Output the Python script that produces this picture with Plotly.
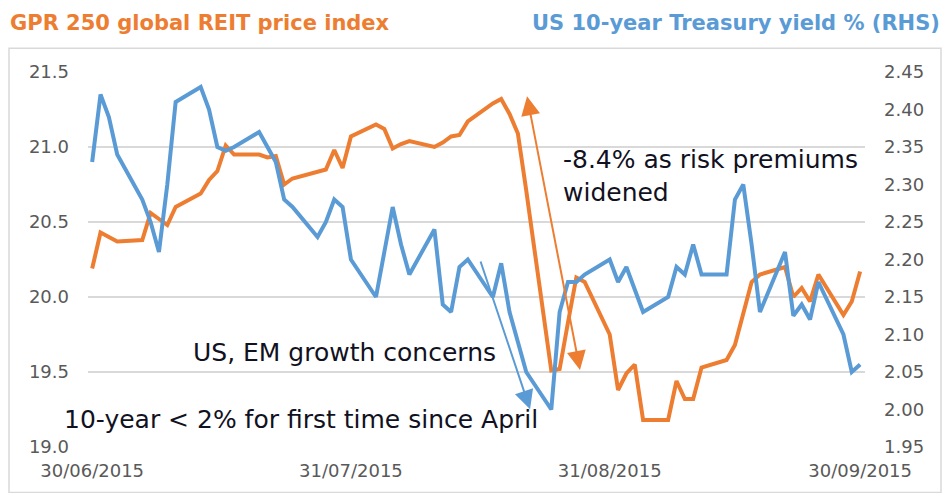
import plotly.graph_objects as go

# ---------------- data ----------------
dates = [
    "2015-06-30",
    "2015-07-01", "2015-07-02", "2015-07-03", "2015-07-06", "2015-07-07", "2015-07-08",
    "2015-07-09", "2015-07-10", "2015-07-13", "2015-07-14", "2015-07-15", "2015-07-16",
    "2015-07-17", "2015-07-20", "2015-07-21", "2015-07-22", "2015-07-23", "2015-07-24",
    "2015-07-27", "2015-07-28", "2015-07-29", "2015-07-30", "2015-07-31",
    "2015-08-03", "2015-08-04", "2015-08-05", "2015-08-06", "2015-08-07", "2015-08-10",
    "2015-08-11", "2015-08-12", "2015-08-13", "2015-08-14", "2015-08-17", "2015-08-18",
    "2015-08-19", "2015-08-20", "2015-08-21", "2015-08-24", "2015-08-25", "2015-08-26",
    "2015-08-27", "2015-08-28", "2015-08-31",
    "2015-09-01", "2015-09-02", "2015-09-03", "2015-09-04", "2015-09-07", "2015-09-08",
    "2015-09-09", "2015-09-10", "2015-09-11", "2015-09-14", "2015-09-15", "2015-09-16",
    "2015-09-17", "2015-09-18", "2015-09-21", "2015-09-22", "2015-09-23", "2015-09-24",
    "2015-09-25", "2015-09-28", "2015-09-29", "2015-09-30",
]

reit_index = [
    20.19,
    20.43, 20.40, 20.37, 20.38, 20.56, 20.52,
    20.48, 20.60, 20.69, 20.78, 20.84, 21.01,
    20.95, 20.95, 20.93, 20.94, 20.75, 20.79,
    20.83, 20.85, 20.98, 20.86, 21.07,
    21.15, 21.12, 20.99, 21.02, 21.04, 21.00,
    21.03, 21.07, 21.08, 21.17, 21.29, 21.32,
    21.22, 21.09, 20.71, 19.51, 19.52, 19.83,
    20.13, 20.10, 19.75,
    19.38, 19.49, 19.55, 19.18, 19.18, 19.44,
    19.32, 19.32, 19.53, 19.58, 19.68, 19.90,
    20.10, 20.15, 20.20, 20.00, 20.06, 19.97,
    20.15, 19.88, 19.97, 20.17,
]

treasury_yield = [
    2.33,
    2.42, 2.39, 2.34, 2.28, 2.25, 2.21,
    2.30, 2.41, 2.43, 2.40, 2.35, 2.345,
    2.35, 2.37, 2.35, 2.33, 2.28, 2.27,
    2.23, 2.25, 2.28, 2.27, 2.20,
    2.15, 2.21, 2.27, 2.22, 2.18, 2.24,
    2.14, 2.13, 2.19, 2.20, 2.15, 2.195,
    2.13, 2.09, 2.05, 2.00, 2.13, 2.17,
    2.17, 2.18, 2.20,
    2.17, 2.19, 2.16, 2.13, 2.15, 2.19,
    2.18, 2.22, 2.18, 2.18, 2.28, 2.30,
    2.22, 2.13, 2.21, 2.125, 2.14, 2.12,
    2.17, 2.10, 2.05, 2.06,
]

left_ticks = [19.0, 19.5, 20.0, 20.5, 21.0, 21.5]
right_ticks = [1.95, 2.00, 2.05, 2.10, 2.15, 2.20, 2.25, 2.30, 2.35, 2.40, 2.45]
x_ticks = ["2015-06-30", "2015-07-31", "2015-08-31", "2015-09-30"]

title_left = "GPR 250 global REIT price index"
title_right = "US 10-year Treasury yield % (RHS)"
note_risk = "-8.4% as risk premiums<br>widened"
note_growth = "US, EM growth concerns"
note_yield = "10-year < 2% for first time since April"

# ---------------- layout geometry ----------------
W, H = 944, 493
PL, PR, PT, PB = 88, 865, 72, 451
ORANGE = "#ED7D31"
BLUE = "#5B9BD5"
GRID = "#D9D9D9"
TICK = "#595959"
TEXT = "#111122"


def px_x(px):
    return (px - PL) / (PR - PL)


def px_y(py):
    return (PB - py) / (PB - PT)


fig = go.Figure()
fig.add_trace(go.Scatter(x=dates, y=reit_index, mode="lines", yaxis="y",
                         line=dict(color=ORANGE, width=4), name=title_left))
fig.add_trace(go.Scatter(x=dates, y=treasury_yield, mode="lines", yaxis="y2",
                         line=dict(color=BLUE, width=4), name=title_right))

tickfont = dict(family="DejaVu Sans", size=18, color=TICK)

fig.update_layout(
    width=W, height=H,
    margin=dict(l=PL, r=W - PR, t=PT, b=H - PB),
    paper_bgcolor="white", plot_bgcolor="white",
    showlegend=False,
    xaxis=dict(type="date", range=["2015-06-29 12:00", "2015-09-30 14:00"],
               tickvals=x_ticks, tickformat="%d/%m/%Y", showgrid=False,
               zeroline=False, showline=False, ticks="", tickfont=tickfont,
               ticklabelstandoff=11),
    yaxis=dict(range=[19.0, 21.5], tickvals=left_ticks,
               ticktext=[f"{v:.1f}" for v in left_ticks],
               showgrid=True, gridcolor=GRID, gridwidth=1.5, zeroline=False,
               showline=False, ticks="", tickfont=tickfont, ticklabelstandoff=18),
    yaxis2=dict(range=[1.95, 2.45], tickvals=right_ticks,
                ticktext=[f"{v:.2f}" for v in right_ticks],
                overlaying="y", side="right", showgrid=False, zeroline=False,
                showline=False, ticks="", tickfont=tickfont, ticklabelstandoff=18),
)

# chart border
fig.add_shape(type="rect", xref="paper", yref="paper",
              x0=px_x(9), x1=px_x(941), y0=px_y(497), y1=px_y(48),
              line=dict(color=GRID, width=1.5), layer="below")

# titles
fig.add_annotation(text=f"<b>{title_left}</b>", xref="paper", yref="paper",
                   x=px_x(8), y=px_y(22), xanchor="left", yanchor="middle",
                   showarrow=False, font=dict(family="DejaVu Sans", size=21, color=ORANGE))
fig.add_annotation(text=f"<b>{title_right}</b>", xref="paper", yref="paper",
                   x=px_x(942), y=px_y(22), xanchor="right", yanchor="middle",
                   showarrow=False, font=dict(family="DejaVu Sans", size=21, color=BLUE))

# notes
note_font = dict(family="DejaVu Sans", size=25, color=TEXT)
fig.add_annotation(text=note_risk, xref="paper", yref="paper", x=px_x(561), y=px_y(177),
                   xanchor="left", yanchor="middle", align="left", showarrow=False,
                   font=note_font)
fig.add_annotation(text=note_growth, xref="paper", yref="paper", x=px_x(191), y=px_y(355),
                   xanchor="left", yanchor="middle", align="left", showarrow=False,
                   font=note_font)
fig.add_annotation(text=note_yield, xref="paper", yref="paper", x=px_x(62), y=px_y(423),
                   xanchor="left", yanchor="middle", align="left", showarrow=False,
                   font=note_font)

# arrows (data coordinates on the left axis)
fig.add_annotation(x="2015-08-27 10:30", y=19.514, ax="2015-08-21 01:30", ay=21.348,
                   xref="x", yref="y", axref="x", ayref="y", text="",
                   showarrow=True, arrowside="end+start", arrowhead=2, startarrowhead=2,
                   arrowsize=1.9, startarrowsize=1.9, arrowwidth=2, arrowcolor=ORANGE,
                   standoff=0, startstandoff=0)
fig.add_annotation(x="2015-08-21 11:00", y=19.251, ax="2015-08-15 11:15", ay=20.247,
                   xref="x", yref="y", axref="x", ayref="y", text="",
                   showarrow=True, arrowhead=2, arrowsize=1.9, arrowwidth=2,
                   arrowcolor=BLUE, standoff=0, startstandoff=0)

fig.write_html("out.html")
